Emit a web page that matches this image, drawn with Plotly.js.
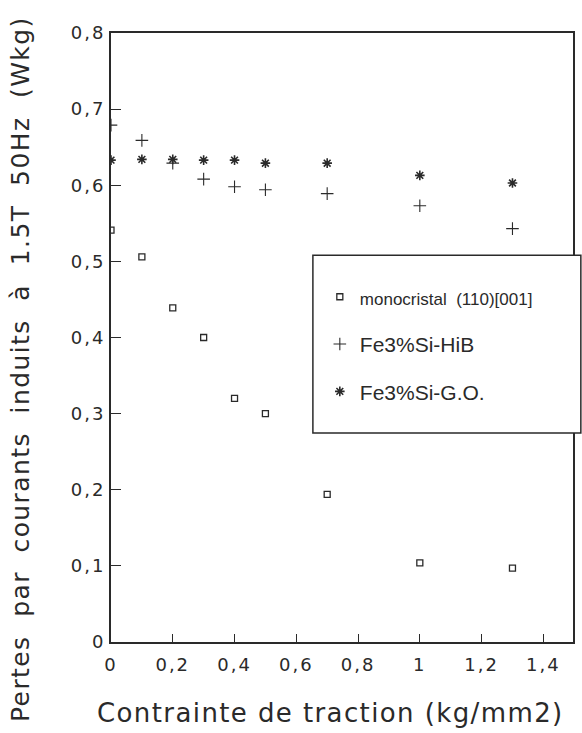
<!DOCTYPE html>
<html>
<head>
<meta charset="utf-8">
<script src="https://cdn.plot.ly/plotly-3.0.1.min.js"></script>
<style>
html, body { margin: 0; padding: 0; background: #fff; }
#chart { width: 582px; height: 733px; }
.xtick text, .ytick text { letter-spacing: 2px; }
.annotation-text { letter-spacing: 1.4px; }
</style>
</head>
<body>
<div id="chart"></div>
<script>
// Data
const stress = [0, 0.1, 0.2, 0.3, 0.4, 0.5, 0.7, 1.0, 1.3];
const monocristal = [0.541, 0.506, 0.439, 0.400, 0.320, 0.300, 0.194, 0.104, 0.097];
const hib = [0.679, 0.659, 0.629, 0.608, 0.598, 0.594, 0.589, 0.573, 0.543];
const go = [0.633, 0.634, 0.634, 0.633, 0.633, 0.629, 0.629, 0.613, 0.603];

const seriesNames = ['<span style="font-size:17px">monocristal  (110)[001]</span>', 'Fe3%Si-HiB', 'Fe3%Si-G.O.'];
const xTickVals = [0, 0.2, 0.4, 0.6, 0.8, 1, 1.2, 1.4];
const xTickText = ['0', '0,2', '0,4', '0,6', '0,8', '1', '1,2', '1,4'];
const yTickVals = [0, 0.1, 0.2, 0.3, 0.4, 0.5, 0.6, 0.7, 0.8];
const yTickText = ['0', '0,1', '0,2', '0,3', '0,4', '0,5', '0,6', '0,7', '0,8'];
const xTitle = 'Contrainte de traction (kg/mm2)';
const yTitle = 'Pertes&nbsp; par&nbsp; courants&nbsp; induits&nbsp; à&nbsp; 1.5T&nbsp; 50Hz&nbsp; (Wkg)';

const ink = '#2a2a2a';

const traces = [
  { x: stress, y: monocristal, name: seriesNames[0], mode: 'markers', type: 'scatter', legendgroup: 'a',
    marker: { symbol: 'square-open', size: 6, color: ink, line: { width: 1.3, color: ink } } },
  { x: stress, y: hib, name: seriesNames[1], mode: 'markers', type: 'scatter', legendgroup: 'b',
    marker: { symbol: 'cross-thin-open', size: 9, color: ink, line: { width: 1.1, color: ink } } },
  { x: stress, y: go, name: seriesNames[2], mode: 'markers', type: 'scatter', legendgroup: 'c',
    marker: { symbol: 'asterisk-open', size: 8, color: ink, line: { width: 1.6, color: ink } } }
];

const layout = {
  width: 582, height: 733,
  margin: { l: 111, r: 9, t: 33, b: 91 },
  paper_bgcolor: '#fff', plot_bgcolor: '#fff',
  separators: ',.',
  font: { family: 'DejaVu Sans', color: ink },
  showlegend: true,
  legend: {
    x: 0.452, y: 0.60, xanchor: 'left', yanchor: 'top',
    bgcolor: 'rgba(0,0,0,0)', borderwidth: 0,
    font: { family: 'Liberation Sans', size: 21, color: ink },
    traceorder: 'grouped', tracegroupgap: 17
  },
  xaxis: {
    range: [0, 1.496], tickvals: xTickVals, ticktext: xTickText,
    ticks: 'inside', ticklen: 8, tickwidth: 1, tickcolor: ink,
    showline: true, linecolor: ink, linewidth: 2, mirror: true,
    showgrid: false, zeroline: false,
    tickfont: { family: 'DejaVu Sans', size: 18, color: ink },
    ticklabelstandoff: 5
  },
  yaxis: {
    range: [0, 0.8], tickvals: yTickVals, ticktext: yTickText,
    ticks: 'inside', ticklen: 10, tickwidth: 1, tickcolor: ink,
    showline: true, linecolor: ink, linewidth: 2, mirror: true,
    showgrid: false, zeroline: false,
    tickfont: { family: 'DejaVu Sans', size: 18, color: ink }
  },
  annotations: [
    { text: xTitle, xref: 'paper', yref: 'paper', x: 0.476, y: -0.1166, xanchor: 'center', yanchor: 'middle',
      showarrow: false, font: { family: 'DejaVu Sans', size: 26, color: ink } },
    { text: yTitle, xref: 'paper', yref: 'paper', x: -0.1948, y: 0.4483, xanchor: 'center', yanchor: 'middle',
      textangle: -90, showarrow: false, font: { family: 'DejaVu Sans', size: 25, color: ink } }
  ],
  shapes: [
    { type: 'rect', xref: 'paper', yref: 'paper', x0: 0.437, x1: 1.017, y0: 0.343, y1: 0.635,
      layer: 'above', fillcolor: '#fff', line: { color: ink, width: 1.5 } }
  ]
};

Plotly.newPlot('chart', traces, layout, { staticPlot: true, displayModeBar: false });
</script>
</body>
</html>
